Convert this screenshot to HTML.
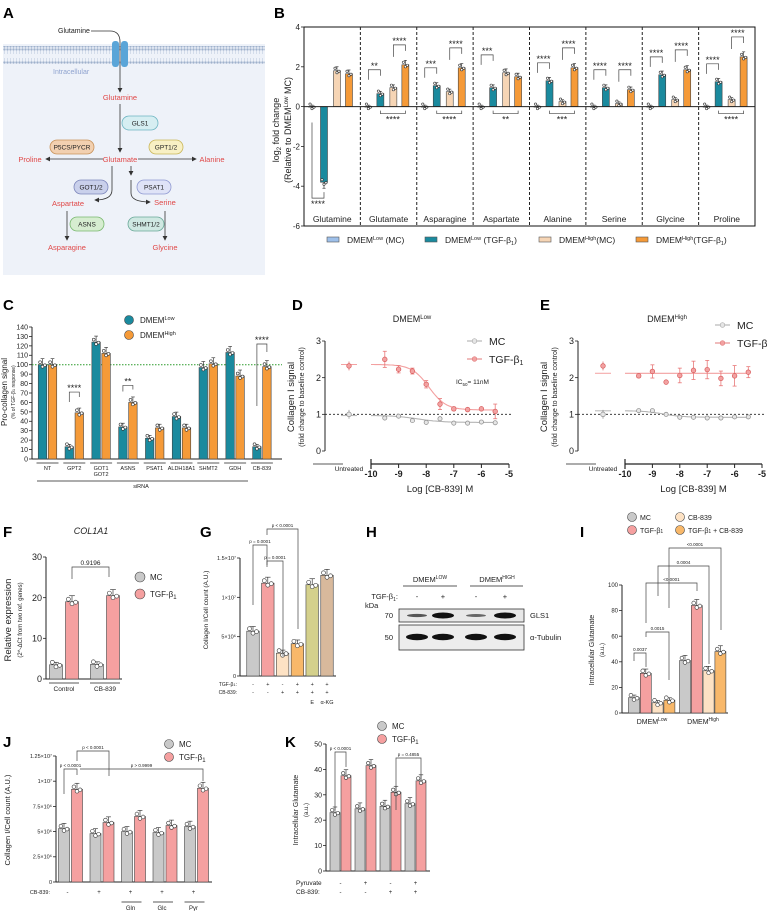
<!DOCTYPE html>
<html><head><meta charset="utf-8"><style>
html,body{margin:0;padding:0;background:#fff;}
svg{display:block;font-family:"Liberation Sans",sans-serif;}
text{fill:#222;}
.pl{font-weight:bold;font-size:15px;fill:#000;}
</style></head><body>
<svg id="fig" xmlns="http://www.w3.org/2000/svg" width="767" height="911" viewBox="0 0 767 911">
<defs>
<pattern id="lipid" width="3" height="16" patternUnits="userSpaceOnUse">
<circle cx="1.5" cy="1.5" r="1.2" fill="#9fb1cc"/><line x1="1.5" y1="3" x2="1.5" y2="6" stroke="#b8c6da" stroke-width="0.5"/>
<line x1="1.5" y1="10" x2="1.5" y2="13" stroke="#b8c6da" stroke-width="0.5"/><circle cx="1.5" cy="14.5" r="1.2" fill="#9fb1cc"/>
</pattern>
<marker id="ah" markerWidth="6" markerHeight="6" refX="5" refY="3" orient="auto"><path d="M0,0 L6,3 L0,6 z" fill="#333"/></marker>
</defs>
<!-- Panel labels -->
<text class="pl" x="3" y="18">A</text>
<text class="pl" x="274" y="18">B</text>
<text class="pl" x="3" y="310">C</text>
<text class="pl" x="292" y="310">D</text>
<text class="pl" x="540" y="310">E</text>
<text class="pl" x="3" y="537">F</text>
<text class="pl" x="200" y="537">G</text>
<text class="pl" x="366" y="537">H</text>
<text class="pl" x="580" y="537">I</text>
<text class="pl" x="3" y="747">J</text>
<text class="pl" x="285" y="747">K</text>

<!-- Panel A pathway diagram -->
<g font-size="7.5" font-family="Liberation Sans Narrow, Liberation Sans, sans-serif">
<rect x="3" y="44" width="262" height="231" fill="#eef2f9"/>
<rect x="3" y="46" width="262" height="18" fill="url(#lipid)"/>
<rect x="112" y="41" width="7" height="26" rx="3" fill="#5aa5d8"/>
<rect x="121" y="41" width="7" height="26" rx="3" fill="#5aa5d8"/>
<text x="58" y="33" font-size="7">Glutamine</text>
<path d="M91,31 L110,31 Q120,31 120,42 L120,92" fill="none" stroke="#333" stroke-width="0.8" marker-end="url(#ah)"/>
<text x="53" y="74" font-size="7" fill="#8fa3cf" style="fill:#8fa3cf">Intracellular</text>
<g style="fill:#e04848" font-size="7.5">
<text x="120" y="100" text-anchor="middle" style="fill:#e04848">Glutamine</text>
<text x="120" y="162" text-anchor="middle" style="fill:#e04848">Glutamate</text>
<text x="30" y="162" text-anchor="middle" style="fill:#e04848">Proline</text>
<text x="212" y="162" text-anchor="middle" style="fill:#e04848">Alanine</text>
<text x="68" y="206" text-anchor="middle" style="fill:#e04848">Aspartate</text>
<text x="165" y="205" text-anchor="middle" style="fill:#e04848">Serine</text>
<text x="67" y="250" text-anchor="middle" style="fill:#e04848">Asparagine</text>
<text x="165" y="250" text-anchor="middle" style="fill:#e04848">Glycine</text>
</g>
<line x1="120" y1="104" x2="120" y2="152" stroke="#333" stroke-width="0.8" marker-end="url(#ah)"/>
<line x1="103" y1="159" x2="46" y2="159" stroke="#333" stroke-width="0.8" marker-end="url(#ah)"/>
<line x1="138" y1="159" x2="196" y2="159" stroke="#333" stroke-width="0.8" marker-end="url(#ah)"/>
<path d="M112,166 L112,190 Q112,200 95,200" fill="none" stroke="#333" stroke-width="0.8" marker-end="url(#ah)"/>
<line x1="131" y1="166" x2="131" y2="175" stroke="#333" stroke-width="0.8" marker-end="url(#ah)"/>
<path d="M131,180 L131,193 Q131,202 150,202" fill="none" stroke="#333" stroke-width="0.8" marker-end="url(#ah)"/>
<line x1="67" y1="211" x2="67" y2="240" stroke="#333" stroke-width="0.8" marker-end="url(#ah)"/>
<line x1="165" y1="211" x2="165" y2="240" stroke="#333" stroke-width="0.8" marker-end="url(#ah)"/>
<g font-size="6.5" text-anchor="middle">
<rect x="122" y="116" width="36" height="14" rx="7" fill="#d6eef2" stroke="#6db5c2" stroke-width="0.8"/><text x="140" y="125.5">GLS1</text>
<rect x="50" y="140" width="44" height="14" rx="7" fill="#f2d0b0" stroke="#c8925a" stroke-width="0.8"/><text x="72" y="149.5">P5CS/PYCR</text>
<rect x="149" y="140" width="34" height="14" rx="7" fill="#f8f0c4" stroke="#c9b659" stroke-width="0.8"/><text x="166" y="149.5">GPT1/2</text>
<rect x="74" y="180" width="34" height="14" rx="7" fill="#c9d0eb" stroke="#7c86bb" stroke-width="0.8"/><text x="91" y="189.5">GOT1/2</text>
<rect x="137" y="180" width="34" height="14" rx="7" fill="#dfe3f7" stroke="#8f99d2" stroke-width="0.8"/><text x="154" y="189.5">PSAT1</text>
<rect x="70" y="217" width="34" height="14" rx="7" fill="#d6edd0" stroke="#78b86e" stroke-width="0.8"/><text x="87" y="226.5">ASNS</text>
<rect x="128" y="217" width="36" height="14" rx="7" fill="#cfe8e2" stroke="#68a898" stroke-width="0.8"/><text x="146" y="226.5">SHMT1/2</text>
</g>
</g>

<!-- Panel H western blot -->
<g font-size="7.5">
<text x="430" y="582" text-anchor="middle">DMEM<tspan dy="-3" font-size="5">LOW</tspan></text>
<text x="497" y="582" text-anchor="middle">DMEM<tspan dy="-3" font-size="5">HIGH</tspan></text>
<line x1="403" y1="586" x2="457" y2="586" stroke="#222" stroke-width="0.8"/>
<line x1="470" y1="586" x2="523" y2="586" stroke="#222" stroke-width="0.8"/>
<text x="398" y="599" text-anchor="end">TGF-β<tspan dy="2" font-size="5">1</tspan><tspan dy="-2">:</tspan></text>
<text x="417" y="599" text-anchor="middle">-</text><text x="443" y="599" text-anchor="middle">+</text>
<text x="476" y="599" text-anchor="middle">-</text><text x="505" y="599" text-anchor="middle">+</text>
<text x="365" y="608">kDa</text>
<text x="393" y="618" text-anchor="end">70</text><text x="393" y="640" text-anchor="end">50</text>
<rect x="399" y="609" width="125" height="13" fill="#e8e8e8" stroke="#333" stroke-width="0.8"/>
<rect x="399" y="625" width="125" height="25" fill="#ededed" stroke="#333" stroke-width="0.8"/>
<ellipse cx="417" cy="615.5" rx="10" ry="1.6" fill="#555"/>
<ellipse cx="443" cy="615.5" rx="11" ry="3" fill="#111"/>
<ellipse cx="476" cy="615.5" rx="10" ry="1.5" fill="#666"/>
<ellipse cx="505" cy="615.5" rx="11" ry="3" fill="#111"/>
<ellipse cx="417" cy="637" rx="11" ry="3.2" fill="#111"/>
<ellipse cx="443" cy="637" rx="11" ry="3.2" fill="#111"/>
<ellipse cx="476" cy="637" rx="11" ry="3.2" fill="#111"/>
<ellipse cx="505" cy="637" rx="11" ry="3.2" fill="#111"/>
<text x="530" y="618">GLS1</text><text x="530" y="640">α-Tubulin</text>
</g>
</svg>
<script>
// ---------- DATA ----------
const bCats=['Glutamine','Glutamate','Asparagine','Aspartate','Alanine','Serine','Glycine','Proline'];
const bMCLow=[0,0,0,0,0,0,0,0];
const bTGFLow=[-3.8,0.65,1.05,0.95,1.3,0.95,1.6,1.25];
const bMCHigh=[1.8,0.95,0.75,1.7,0.25,0.15,0.35,0.35];
const bTGFHigh=[1.65,2.1,1.95,1.5,1.95,0.85,1.85,2.5];
const bTicks=[4,2,0,-2,-4,-6];
const bStarsLow=['****','**','***','***','****','****','****','****'];
const bStarsHigh=['','****','****','','****','****','****','****'];
const bStarsBottom=['','****','****','**','***','','','****'];

const cCats=['NT','GPT2','GOT1\nGOT2','ASNS','PSAT1','ALDH18A1','SHMT2','GDH','CB-839'];
const cLow=[100,13,124,34,22,45,97,113,13];
const cHigh=[100,49,112,60,33,33,101,88,98];
const cTicks=[0,10,20,30,40,50,60,70,80,90,100,110,120,130,140];

const doseX=[-9.5,-9,-8.5,-8,-7.5,-7,-6.5,-6,-5.5];
const dTGF=[2.5,2.23,2.18,1.82,1.28,1.15,1.13,1.15,1.08];
const dTGFErr=[0.22,0.1,0.08,0.1,0.15,0.05,0.04,0.03,0.2];
const dMC=[0.9,0.95,0.83,0.78,0.88,0.76,0.76,0.79,0.77];
const dUntreated=[2.32,1.0];
const dFitTGF=[2.36,1.12,-7.9,1.4];
const dFitMC=[0.97,0.78,-8.3,1.0];
const eTGF=[2.05,2.17,1.88,2.06,2.2,2.22,1.98,2.05,2.15];
const eTGFErr=[0.05,0.18,0.03,0.2,0.25,0.25,0.2,0.28,0.15];
const eMC=[1.1,1.1,1.0,0.92,0.92,0.9,0.9,0.93,0.93];
const eUntreated=[2.32,1.0];
const eFitTGF=[2.12,2.12,-8,1];
const eFitMC=[1.1,0.92,-8.6,1.2];
const doseTicks=[-10,-9,-8,-7,-6,-5];

const fCats=['Control','CB-839'];
const fMC=[3.5,3.6];
const fTGF=[19,20.5];
const fTicks=[0,10,20,30];

const gVals=[5.7,11.8,2.9,4.1,11.6,12.8];
const gTicks=[0,5,10,15];
const gTickLabels=['0','5×10⁶','1×10⁷','1.5×10⁷'];
const gTGF=['-','+','-','+','+','+'];
const gCB=['-','-','+','+','+','+'];
const gExtra=['','','','','E','α-KG'];

const iMC=[12,41];
const iTGF=[31,84];
const iCB=[8,33];
const iTGFCB=[10,48];
const iCats=['DMEM','DMEM'];
const iTicks=[0,20,40,60,80,100];

const jMC=[5.3,4.8,5.0,4.9,5.5];
const jTGF=[9.2,5.9,6.5,5.6,9.3];
const jCB=['-','+','+','+','+'];
const jAdd=['','','Gln','Glc','Pyr'];
const jTicks=[0,2.5,5,7.5,10,12.5];
const jTickLabels=['0','2.5×10⁶','5×10⁶','7.5×10⁶','1×10⁷','1.25×10⁷'];

const kMC=[23,24.5,25.5,26.5];
const kTGF=[37.5,41.5,31,35.5];
const kPyr=['-','+','-','+'];
const kCB=['-','-','+','+'];
const kTicks=[0,10,20,30,40,50];

// ---------- HELPERS ----------
const NS='http://www.w3.org/2000/svg';
const svg=document.getElementById('fig');
function E(tag,a,p){const e=document.createElementNS(NS,tag);for(const k in a)e.setAttribute(k,a[k]);(p||svg).appendChild(e);return e;}
function T(x,y,s,a,p){const e=E('text',Object.assign({x:x,y:y},a||{}),p);e.innerHTML=s;return e;}
const lin=(d0,d1,r0,r1)=>v=>r0+(v-d0)*(r1-r0)/(d1-d0);
function L(x1,y1,x2,y2,w,extra,p){return E('line',Object.assign({x1,y1,x2,y2,stroke:'#222','stroke-width':w||0.8},extra||{}),p);}
const JIT=[[-0.28,-2.5],[0,2],[0.28,0.5]];
function bar(g,x,w,v,y,color,nm){
  const y0=y(0),yv=y(v);
  const r=E('rect',{x:x-w/2,y:Math.min(y0,yv),width:w,height:Math.max(0.5,Math.abs(y0-yv)),fill:color,stroke:'#444','stroke-width':0.6},g);
  
  
  const dir=v>=0?-1:1,e=Math.min(6,Math.abs(y0-yv)*0.07+1.5);
  L(x,yv,x,yv+dir*e,0.6,{},g);L(x-w*0.22,yv+dir*e,x+w*0.22,yv+dir*e,0.6,{},g);
  JIT.forEach(j=>E('circle',{cx:x+j[0]*w,cy:yv+j[1],r:Math.min(2,w*0.17),fill:'#fff',stroke:'#333','stroke-width':0.6},g));
}
function yAxis(g,x,y,ticks,labels,top,bot,fs){
  L(x,y(top),x,y(bot),1,{},g);
  ticks.forEach((t,i)=>{L(x-3,y(t),x,y(t),0.8,{},g);T(x-4,y(t)+fs*0.35,labels?labels[i]:String(t),{'text-anchor':'end','font-size':fs},g);});
}
function rotText(x,y,s,fs,g){return T(x,y,s,{'font-size':fs,'text-anchor':'middle',transform:`rotate(-90 ${x} ${y})`},g);}
function bracket(g,x1,x2,y,drop1,drop2,label,fs){
  E('path',{d:`M${x1},${y+drop1} L${x1},${y} L${x2},${y} L${x2},${y+drop2}`,fill:'none',stroke:'#444','stroke-width':0.7},g);
  if(label)T((x1+x2)/2,y-2,label,{'text-anchor':'middle','font-size':fs||6},g);
}

// ---------- PANEL B ----------
(function(){
  const g=E('g',{});
  
  
  const x0=304,x1=755,y=lin(-6,4,226,27),gw=(x1-x0)/bCats.length;
  E('rect',{x:x0,y:27,width:x1-x0,height:199,fill:'none',stroke:'#111','stroke-width':1},g);
  bTicks.forEach(t=>{L(x0-3,y(t),x0,y(t),0.8,{},g);T(x0-4,y(t)+3,String(t),{'text-anchor':'end','font-size':8},g);});
  const yt=E('g',{},g);
  
  
  rotText(279,130,'log<tspan dy="2" font-size="6">2</tspan><tspan dy="-2"> fold change</tspan>',9,yt);
  rotText(291,130,'(Relative to DMEM<tspan dy="-3" font-size="6">Low</tspan><tspan dy="3"> MC)</tspan>',9,yt);
  const series=[bMCLow,bTGFLow,bMCHigh,bTGFHigh],cols=['#9ec0ea','#1a8a9e','#f6d5b5','#f59a38'],offs=[8,20,33,45];
  bCats.forEach((c,i)=>{
    const gx=x0+gw*i;
    if(i>0)L(gx,27,gx,226,1,{'stroke-dasharray':'3,2'},g);
    series.forEach((s,k)=>bar(g,gx+offs[k]*gw/56.4,7,s[i],y,cols[k],'bar-'+c.toLowerCase()));
    const lab=T(gx+gw/2,222,c,{'text-anchor':'middle','font-size':8.5,'font-family':'Liberation Sans Narrow, Liberation Sans, sans-serif'},g);
    
    
    const xa=gx+offs[0]*gw/56.4,xb=gx+offs[1]*gw/56.4,xc=gx+offs[2]*gw/56.4,xd=gx+offs[3]*gw/56.4;
    if(bTGFLow[i]<0){E('path',{d:`M${xa},${y(-0.8)} L${xa},${y(-4.6)} L${xb},${y(-4.6)} L${xb},${y(-4.3)}`,fill:'none',stroke:'#444','stroke-width':0.7},g);T((xa+xb)/2,y(-4.6)+9,bStarsLow[i],{'text-anchor':'middle','font-size':9},g);}
    else{const by=y(Math.max(bTGFLow[i],bMCHigh[i])+0.9);bracket(g,xa,xb,by,10,6,'',0);T((xa+xb)/2,by-1,bStarsLow[i],{'text-anchor':'middle','font-size':9},g);}
    if(bStarsHigh[i]){const by=y(bTGFHigh[i]+1.0);bracket(g,xc,xd,by,12,6,'',0);T((xc+xd)/2,by-1,bStarsHigh[i],{'text-anchor':'middle','font-size':9},g);}
    if(bStarsBottom[i]){const by=y(-0.35);E('path',{d:`M${xb},${by-3} L${xb},${by} L${xd},${by} L${xd},${by-3}`,fill:'none',stroke:'#444','stroke-width':0.7},g);T((xb+xd)/2,by+9,bStarsBottom[i],{'text-anchor':'middle','font-size':9},g);}
  });
  L(x0,y(0),x1,y(0),1,{},g);
  const leg=[['DMEM<tspan dy="-3" font-size="5.5">Low</tspan><tspan dy="3"> (MC)</tspan>',327],['DMEM<tspan dy="-3" font-size="5.5">Low</tspan><tspan dy="3"> (TGF-β</tspan><tspan dy="2" font-size="5.5">1</tspan><tspan dy="-2">)</tspan>',425],['DMEM<tspan dy="-3" font-size="5.5">High</tspan><tspan dy="3">(MC)</tspan>',539],['DMEM<tspan dy="-3" font-size="5.5">High</tspan><tspan dy="3">(TGF-β</tspan><tspan dy="2" font-size="5.5">1</tspan><tspan dy="-2">)</tspan>',636]];
  leg.forEach((l,k)=>{
    const s=E('rect',{x:l[1],y:237,width:12,height:5,fill:cols[k],stroke:'#555','stroke-width':0.6},g);
    
    
    const t=T(l[1]+20,243,l[0],{'font-size':8.5,'font-family':'Liberation Sans Narrow, Liberation Sans, sans-serif'},g);
    
    
  });
})();

// ---------- PANEL C ----------
(function(){
  const g=E('g',{});
  
  
  const y=lin(0,140,459,327),ax=32;
  yAxis(g,ax,y,cTicks,null,140,0,7);
  L(ax,459,282,459,1,{},g);
  L(ax,y(100),282,y(100),1,{stroke:'#2a9a2a','stroke-dasharray':'1.5,1.5'},g);
  cCats.forEach((c,i)=>{
    const cx=47.5+26.8*i;
    bar(g,cx-5,8.5,cLow[i],y,'#1a8a9e','bar-c-low');
    bar(g,cx+5,8.5,cHigh[i],y,'#f59a38','bar-c-high');
    L(cx-11,463,cx+11,463,0.7,{},g);
    c.split('\n').forEach((p,k)=>T(cx,470+k*6,p,{'text-anchor':'middle','font-size':5.5},g));
  });
  L(37,481,248,481,0.7,{},g);
  T(141,488,'siRNA',{'text-anchor':'middle','font-size':5.5},g);
  const gx=47.5+26.8;bracket(g,gx-5,gx+5,y(cHigh[1]+22),10,5,'',0);T(gx,y(cHigh[1]+22)-1,'****',{'text-anchor':'middle','font-size':9},g);
  const ax3=47.5+26.8*3;bracket(g,ax3-5,ax3+5,y(cHigh[3]+18),6,4,'',0);T(ax3,y(cHigh[3]+18)-1,'**',{'text-anchor':'middle','font-size':9},g);
  const a8=47.5+26.8*8;bracket(g,a8-5,a8+5,y(cHigh[8]+24),62,8,'',0);T(a8,y(cHigh[8]+24)-1,'****',{'text-anchor':'middle','font-size':9},g);
  const yt=E('g',{},g);
  
  
  rotText(7,392,'Pro-collagen signal',8,yt);
  rotText(15,392,'(% of TGF-β<tspan font-size="4">1</tspan> response)',5,yt);
  [['DMEM<tspan dy="-3" font-size="5.5">Low</tspan>','#1a8a9e',320],['DMEM<tspan dy="-3" font-size="5.5">High</tspan>','#f59a38',335]].forEach(l=>{
    const c=E('circle',{cx:129,cy:l[2],r:4.5,fill:l[1],stroke:'#444','stroke-width':0.6},g);
    
    
    T(140,l[2]+3,l[0],{'font-size':8},g);
  });
})();

// ---------- PANELS D & E ----------
function dosePanel(name,x0,x1,axisX,untrX,title,titleX,tgf,tgfErr,mc,untr,fitT,fitM,legX,legY,ic50){
  const g=E('g',{});
  
  
  const x=lin(-10,-5,x0,x1),y=lin(0,3,451,341);
  yAxis(g,axisX,y,[0,1,2,3],null,3,0,9);
  L(axisX-12,464,axisX+18,464,0.8,{},g);
  L(x0,464,x1,464,1.2,{},g);
  L(x0,459,x0,469,1.2,{},g);
  doseTicks.forEach(t=>{L(x(t),464,x(t),468,1,{},g);T(x(t),477,String(t),{'text-anchor':'middle','font-size':9,'font-weight':'bold','font-family':'Liberation Sans Narrow, Liberation Sans, sans-serif'},g);});
  T(untrX,471,'Untreated',{'text-anchor':'middle','font-size':6.5,'font-family':'Liberation Sans Narrow, Liberation Sans, sans-serif'},g);
  T((x0+x1)/2,492,'Log [CB-839] M',{'text-anchor':'middle','font-size':9.5,'font-family':'Liberation Sans Narrow, Liberation Sans, sans-serif'},g);
  T(titleX,322,title,{'text-anchor':'middle','font-size':9},g);
  L(axisX,y(1),x1+2,y(1),0.9,{'stroke-dasharray':'2,2'},g);
  rotText(axisX-31,397,'Collagen I signal',9.5,g);
  rotText(axisX-21,397,'(fold change to baseline control)',7,g);
  const sig=(p,v)=>p[1]+(p[0]-p[1])/(1+Math.pow(10,(v-p[2])*p[3]));
  [[fitT,'#f3a0a0'],[fitM,'#b5b5b5']].forEach(f=>{
    let d='';for(let v=-10;v<=-5.5001;v+=0.05)d+=(d?'L':'M')+x(v).toFixed(1)+','+y(sig(f[0],v)).toFixed(1);
    const p=E('path',{d:d,fill:'none',stroke:f[1],'stroke-width':1.1},g);
    
    
    L(untrX-8,y(sig(f[0],-10)),untrX+8,y(sig(f[0],-10)),1,{stroke:f[1]},g);
  });
  doseX.forEach((d,i)=>{
    L(x(d),y(tgf[i]-tgfErr[i]),x(d),y(tgf[i]+tgfErr[i]),0.8,{stroke:'#e87878'},g);
    L(x(d)-2,y(tgf[i]+tgfErr[i]),x(d)+2,y(tgf[i]+tgfErr[i]),0.8,{stroke:'#e87878'},g);
    L(x(d)-2,y(tgf[i]-tgfErr[i]),x(d)+2,y(tgf[i]-tgfErr[i]),0.8,{stroke:'#e87878'},g);
    const pt=E('circle',{cx:x(d),cy:y(tgf[i]),r:2.3,fill:'#f2a2a2',stroke:'#d85a5a','stroke-width':0.7},g);
    
    
    const pm=E('circle',{cx:x(d),cy:y(mc[i]),r:2.1,fill:'#e6e6e6',stroke:'#8a8a8a','stroke-width':0.7},g);
    
    
  });
  [[untr[0],'#f2a2a2','#d85a5a'],[untr[1],'#e6e6e6','#8a8a8a']].forEach(u=>{
    L(untrX,y(u[0]-0.12),untrX,y(u[0]+0.12),0.7,{stroke:u[2]},g);
    const c=E('circle',{cx:untrX,cy:y(u[0]),r:2.3,fill:u[1],stroke:u[2],'stroke-width':0.7},g);
    
    
  });
  [['MC','#aaa','#e6e6e6',legY],['TGF-β<tspan dy="2" font-size="7">1</tspan>','#e07a7a','#f2a2a2',legY+18]].forEach(l=>{
    L(legX,l[3],legX+15,l[3],1,{stroke:l[1]},g);
    E('circle',{cx:legX+7.5,cy:l[3],r:2.3,fill:l[2],stroke:l[1],'stroke-width':0.7},g);
    const t=T(legX+22,l[3]+4,l[0],{'font-size':10.5,'font-family':'Liberation Sans Narrow, Liberation Sans, sans-serif'},g);
    
    
  });
  if(ic50)T(456,384,'IC<tspan dy="2" font-size="4.5">50</tspan><tspan dy="-2">= 11nM</tspan>',{'font-size':6.5},g);
}
dosePanel('panel-d-dose-response',371,509,325,349,'DMEM<tspan dy="-3" font-size="6">Low</tspan>',412,dTGF,dTGFErr,dMC,dUntreated,dFitTGF,dFitMC,467,341,true);
dosePanel('panel-e-dose-response',625,762,578,603,'DMEM<tspan dy="-3" font-size="6">High</tspan>',667,eTGF,eTGFErr,eMC,eUntreated,eFitTGF,eFitMC,715,325,false);

// ---------- PANEL F ----------
(function(){
  const g=E('g',{});
  
  
  const y=lin(0,30,679,557),ax=46;
  yAxis(g,ax,y,fTicks,null,30,0,9);
  L(ax,679,122,679,1,{},g);
  T(91,534,'COL1A1',{'text-anchor':'middle','font-size':9,'font-style':'italic'},g);
  fCats.forEach((c,i)=>{
    const cx=64+41*i;
    bar(g,cx-8,13,fMC[i],y,'#c9c9c9','bar-f-mc');
    bar(g,cx+8,13,fTGF[i],y,'#f5a0a0','bar-f-tgf');
    L(cx-15,683,cx+15,683,0.8,{},g);
    T(cx,691,c,{'text-anchor':'middle','font-size':6.5},g);
  });
  bracket(g,72,109,567,12,10,'0.9196',6.5);
  rotText(11,620,'Relative expression',9.5,g);
  rotText(22,620,'(2^-ΔCt from two ref. genes)',6,g);
  [['MC','#c9c9c9',577],['TGF-β<tspan dy="2" font-size="6">1</tspan>','#f5a0a0',594]].forEach(l=>{
    const c=E('circle',{cx:140,cy:l[2],r:5,fill:l[1],stroke:'#444','stroke-width':0.6},g);
    
    
    T(150,l[2]+3,l[0],{'font-size':8},g);
  });
})();

// ---------- PANEL G ----------
(function(){
  const g=E('g',{});
  
  
  const y=lin(0,15,676,558),ax=240,cols=['#c9c9c9','#f5a0a0','#fde2c4','#f8b86a','#d4d08c','#d8b99c'];
  yAxis(g,ax,y,gTicks,gTickLabels,15,0,5.5);
  L(ax,676,336,676,1,{},g);
  gVals.forEach((v,i)=>{
    const cx=253+14.8*i;
    bar(g,cx,12.5,v,y,cols[i],'bar-g');
    T(cx,686,gTGF[i],{'text-anchor':'middle','font-size':5.5},g);
    T(cx,694,gCB[i],{'text-anchor':'middle','font-size':5.5},g);
    T(cx,704,gExtra[i],{'text-anchor':'middle','font-size':5.5},g);
  });
  T(237,686,'TGF-β<tspan font-size="4">1</tspan>:',{'text-anchor':'end','font-size':5},g);
  T(237,694,'CB-839:',{'text-anchor':'end','font-size':5},g);
  bracket(g,253,267,545,60,20,'p = 0.0001',4.5);
  bracket(g,267,283,561,6,95,'p = 0.0001',4.5);
  bracket(g,267,298,529,6,100,'p < 0.0001',4.5);
  rotText(208,610,'Collagen I/Cell count (A.U.)',6.5,g);
})();

// ---------- PANEL I ----------
(function(){
  const g=E('g',{});
  
  
  const y=lin(0,100,713,585),ax=622;
  yAxis(g,ax,y,iTicks,null,100,0,6);
  L(ax,713,728,713,1,{},g);
  const ser=[iMC,iTGF,iCB,iTGFCB],cols=['#c9c9c9','#f5a0a0','#fde2c4','#f8b86a'];
  iCats.forEach((c,i)=>{
    ser.forEach((s,k)=>bar(g,634+51*i+11.8*k,11,s[i],y,cols[k],'bar-i'));
    T(652+51*i,724,c+'<tspan dy="-3" font-size="5">'+(i?'High':'Low')+'</tspan>',{'text-anchor':'middle','font-size':7},g);
  });
  bracket(g,634,646,653,8,14,'0.0037',4.5);
  bracket(g,646,669,632,5,48,'0.0015',4.5);
  bracket(g,646,697,583,40,8,'&lt;0.0001',4.5);
  bracket(g,658,709,566,30,98,'0.0004',4.5);
  bracket(g,669,721,548,60,82,'&lt;0.0001',4.5);
  rotText(594,650,'Intracellular Glutamate',7,g);
  rotText(604,650,'(a.u.)',6,g);
  [['MC','#c9c9c9',632,517],['TGF-β<tspan font-size="5">1</tspan>','#f5a0a0',632,530],['CB-839','#fde2c4',680,517],['TGF-β<tspan font-size="5">1</tspan> + CB-839','#f8b86a',680,530]].forEach(l=>{
    const c=E('circle',{cx:l[2],cy:l[3],r:4.5,fill:l[1],stroke:'#444','stroke-width':0.6},g);
    
    
    T(l[2]+8,l[3]+3,l[0],{'font-size':7},g);
  });
})();

// ---------- PANEL J ----------
(function(){
  const g=E('g',{});
  
  
  const y=lin(0,12.5,882,756),ax=56;
  yAxis(g,ax,y,jTicks,jTickLabels,12.5,0,5.5);
  L(ax,882,212,882,1,{},g);
  jMC.forEach((v,i)=>{
    const cx=70.5+31.5*i;
    bar(g,cx-6.5,11,v,y,'#c9c9c9','bar-j-mc');
    bar(g,cx+6.5,11,jTGF[i],y,'#f5a0a0','bar-j-tgf');
    T(cx-3,894,jCB[i],{'text-anchor':'middle','font-size':6},g);
    if(jAdd[i]){L(cx-12,902,cx+8,902,0.8,{},g);T(cx-3,910,jAdd[i],{'text-anchor':'middle','font-size':6},g);}
  });
  T(50,894,'CB-839:',{'text-anchor':'end','font-size':5.5},g);
  bracket(g,64,77,769,25,6,'p &lt; 0.0001',4.5);
  bracket(g,77,109,751,10,25,'p &lt; 0.0001',4.5);
  bracket(g,80,203,769,0,12,'p &gt; 0.9999',4.5);
  rotText(10,820,'Collagen I/Cell count (A.U.)',7.5,g);
  [['MC','#c9c9c9',744],['TGF-β<tspan dy="2" font-size="6">1</tspan>','#f5a0a0',757]].forEach(l=>{
    const c=E('circle',{cx:169,cy:l[2],r:4.5,fill:l[1],stroke:'#444','stroke-width':0.6},g);
    
    
    T(179,l[2]+3,l[0],{'font-size':8},g);
  });
})();

// ---------- PANEL K ----------
(function(){
  const g=E('g',{});
  
  
  const y=lin(0,50,871,744),ax=326;
  yAxis(g,ax,y,kTicks,null,50,0,7);
  L(ax,871,430,871,1,{},g);
  kMC.forEach((v,i)=>{
    const cx=340.5+25*i;
    bar(g,cx-5.5,10,v,y,'#c9c9c9','bar-k-mc');
    bar(g,cx+5.5,10,kTGF[i],y,'#f5a0a0','bar-k-tgf');
    T(cx,885,kPyr[i],{'text-anchor':'middle','font-size':6},g);
    T(cx,894,kCB[i],{'text-anchor':'middle','font-size':6},g);
  });
  T(296,885,'Pyruvate',{'font-size':6.5},g);
  T(296,894,'CB-839:',{'font-size':6.5},g);
  bracket(g,335,346,752,58,15,'p &lt; 0.0001',4.5);
  bracket(g,396,421,758,52,22,'p = 0.4855',4.5);
  rotText(298,810,'Intracellular Glutamate',7,g);
  rotText(308,810,'(a.u.)',6,g);
  [['MC','#c9c9c9',726],['TGF-β<tspan dy="2" font-size="6">1</tspan>','#f5a0a0',739]].forEach(l=>{
    const c=E('circle',{cx:382,cy:l[2],r:4.5,fill:l[1],stroke:'#444','stroke-width':0.6},g);
    
    
    T(392,l[2]+3,l[0],{'font-size':8},g);
  });
})();
</script>
</body></html>
